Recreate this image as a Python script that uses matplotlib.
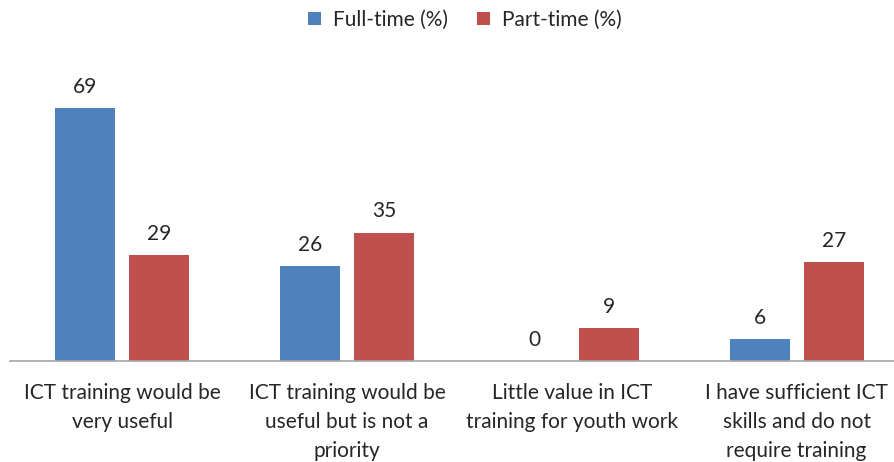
import matplotlib.pyplot as plt
import numpy as np

# data
categories = ['ICT training would be\nvery useful',
              'ICT training would be\nuseful but is not a\npriority',
              'Little value in ICT\ntraining for youth work',
              'I have sufficient ICT\nskills and do not\nrequire training']
full_time = [69, 26, 0, 6]
part_time = [29, 35, 9, 27]

blue = '#4F81BD'
red = '#C0504D'
txt = '#262626'
plt.rcParams['font.family'] = ['Lato', 'DejaVu Sans']

W, H = 895, 462
fig = plt.figure(figsize=(W / 100, H / 100), dpi=100)
# axes placed in pixels: left 10, baseline 361, top 40; runs past the right edge
ax = fig.add_axes([10 / W, (H - 361) / H, 899 / W, 321 / H])

x = np.arange(len(categories))
bw = 0.267
off = 0.165
b1 = ax.bar(x - off, full_time, bw, color=blue, label='Full-time (%)')
b2 = ax.bar(x + off, part_time, bw, color=red, label='Part-time (%)')

for bars in (b1, b2):
    ax.bar_label(bars, padding=8, fontsize=15, color=txt)

ax.set_xlim(-0.5, 3.5)
ax.set_ylim(0, 87.5)
ax.set_yticks([])
ax.set_xticks(x)
ax.set_xticklabels(categories, fontsize=15, color=txt, linespacing=1.55, va='top')
ax.tick_params(axis='x', length=0, pad=16)
for s in ['top', 'right', 'left']:
    ax.spines[s].set_visible(False)
ax.spines['bottom'].set_color('#A6A6A6')
ax.spines['bottom'].set_linewidth(1.2)

fig.legend(loc='center', bbox_to_anchor=(465 / W, 1 - 20 / H), ncol=2, frameon=False,
           fontsize=15, handlelength=0.6, handleheight=0.6, handletextpad=0.6,
           columnspacing=1.4, labelcolor=txt)

fig.savefig('out.png', dpi=100)
